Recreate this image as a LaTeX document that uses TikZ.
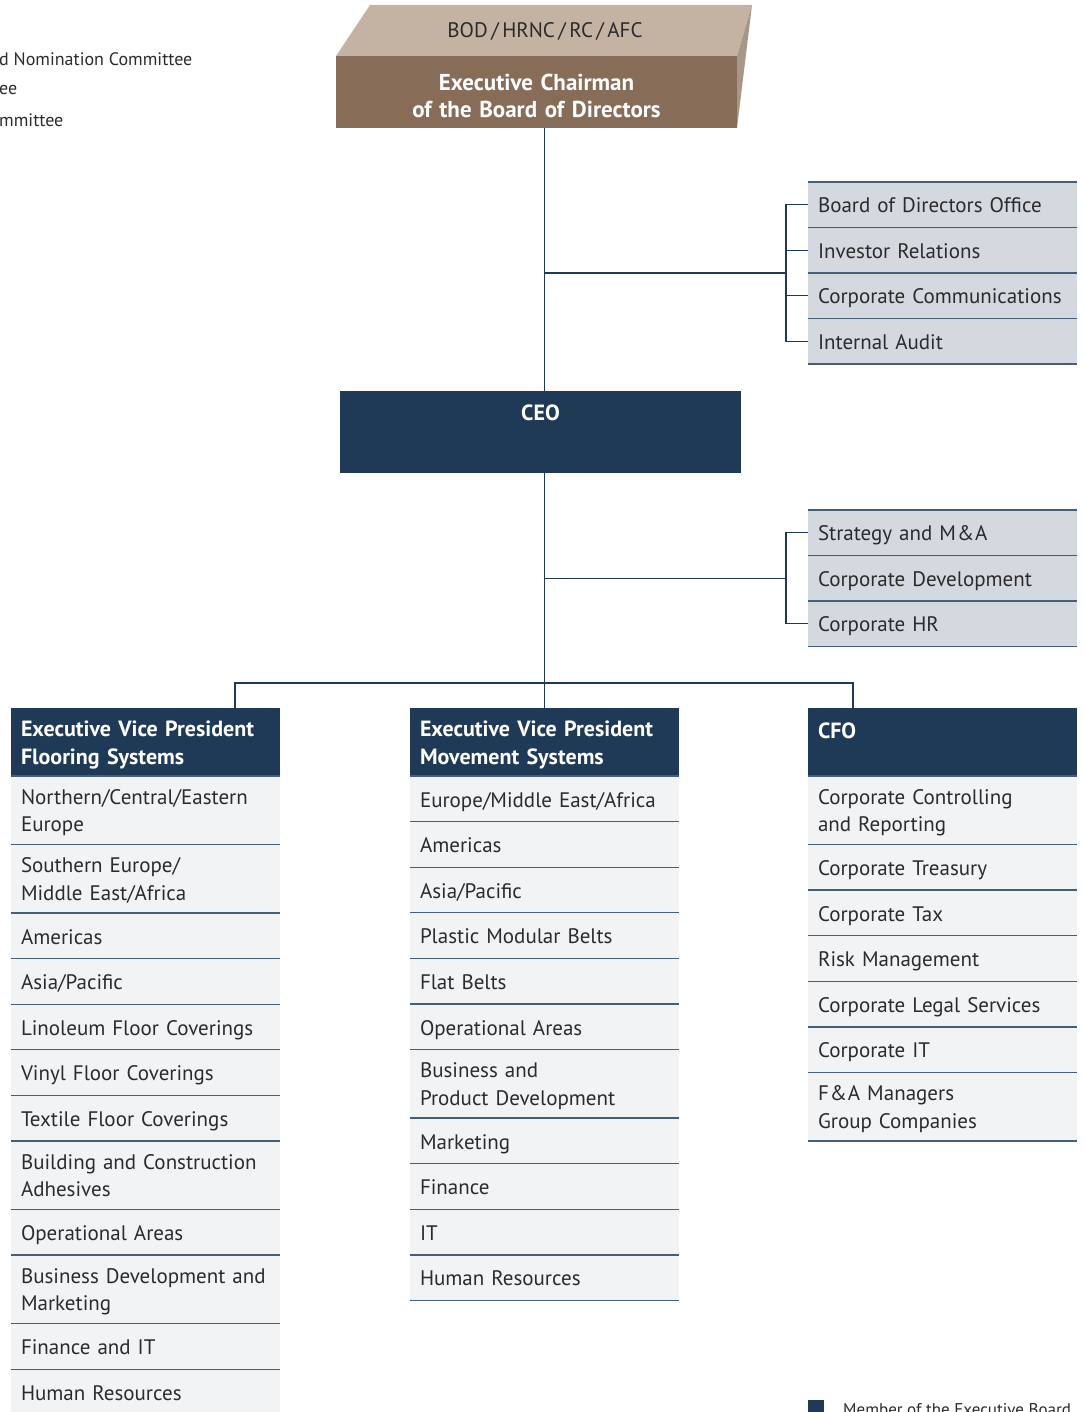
\documentclass[tikz,border=0pt]{standalone}
\usepackage{fontspec}
\setmainfont{PT Sans}
\usetikzlibrary{positioning}

\definecolor{navy}{RGB}{30,58,86}
\definecolor{sepblue}{RGB}{70,94,120}
\definecolor{rowgray}{RGB}{242,243,245}
\definecolor{staffgray}{RGB}{212,216,223}
\definecolor{txtdark}{RGB}{43,43,43}
\definecolor{brownfront}{RGB}{135,108,88}
\definecolor{browntop}{RGB}{196,179,163}
\definecolor{brownside}{RGB}{168,150,134}

\newcommand\orgfont{\fontsize{21}{27.5}\selectfont}
\newcommand\headfont{\fontsize{22}{28}\selectfont\bfseries}
\newcommand\notefont{\fontsize{18}{21}\selectfont}

\tikzset{
  conn/.style={draw=navy, line width=1.2pt},
  sepline/.style={draw=sepblue, line width=1.3pt},
  rowbase/.style={fill=rowgray, anchor=north west, text width=249pt, inner xsep=10pt, inner ysep=0pt,
    outer sep=0pt, align=left, text=txtdark, font=\orgfont},
  unitrow/.style={rowbase, minimum height=45.6pt, execute at begin node={\rule[-5.6pt]{0pt}{27.6pt}}},
  tallrow/.style={rowbase, minimum height=68.5pt, execute at begin node={\rule{0pt}{21pt}},
    execute at end node={\rule[-6pt]{0pt}{6pt}}},
  staffrow/.style={unitrow, fill=staffgray, minimum height=45.5pt},
  headbox/.style={fill=navy, anchor=north west, text width=249pt, inner xsep=10pt, inner ysep=0pt,
    outer sep=0pt, minimum height=68pt, align=left, text=white, font=\headfont,
    execute at begin node={\rule{0pt}{21pt}}},
  pin/.style={inner sep=0pt, outer sep=0pt, minimum size=0pt},
  note/.style={anchor=west, text=txtdark, font=\notefont, inner sep=0pt},
}

\begin{document}
\begin{tikzpicture}[x=1pt,y=-1pt]
\useasboundingbox (0,0) rectangle (1084,1412);
\clip (0,0) rectangle (1084,1412);

\node[note] (hrnc) at (-1,59) {d Nomination Committee};
\node[note] (rc) at (-1,90) {ee};
\node[note] (afc) at (-1,120) {mmittee};

\fill[browntop] (336,56) -- (370,5) -- (752,5) -- (737,56) -- cycle;
\fill[brownside] (737,56) -- (752,5) -- (737,128) -- cycle;
\node[text=txtdark, font=\orgfont] (bod) at (545,31) {BOD\,/\,HRNC\,/\,RC\,/\,AFC};
\node[fill=brownfront, anchor=north west, text width=401pt, minimum height=72pt, inner sep=0pt, outer sep=0pt,
  align=center, text=white, font=\fontsize{23}{26.5}\selectfont\bfseries,
  execute at begin node={\rule{0pt}{30pt}}, execute at end node={\rule[-6pt]{0pt}{6pt}}] (chair) at (336,56)
  {Executive Chairman\\of the Board of Directors};

\node[fill=navy, anchor=north west, minimum width=401pt, minimum height=82pt, inner sep=0pt, outer sep=0pt] (ceo) at (340,391) {};
\node[below=14pt of ceo.north, inner sep=0pt, text=white, font=\headfont] (ceolbl) {CEO};

\node[pin] (bo0) at (808,182) {};
\foreach \t [count=\k, remember=\k as \p (initially 0)] in {Board of Directors Office, Investor Relations,
  Corporate Communications, Internal Audit}{
  \node[staffrow] (bo\k) at (bo\p.south west) {\t};
  \draw[sepline] (bo\k.north west) -- (bo\k.north east);
}
\draw[sepline] (bo4.south west) -- (bo4.south east);

\node[pin] (st0) at (808,510) {};
\foreach \t [count=\k, remember=\k as \p (initially 0)] in {Strategy and M\kern1pt\&\kern1pt A, Corporate Development,
  Corporate HR}{
  \node[staffrow] (st\k) at (st\p.south west) {\t};
  \draw[sepline] (st\k.north west) -- (st\k.north east);
}
\draw[sepline] (st3.south west) -- (st3.south east);

\node[headbox] (fs0) at (11,708) {Executive Vice President\\Flooring Systems};
\foreach \s/\t [count=\k, remember=\k as \p (initially 0)] in {
  tallrow/{Northern/Central/Eastern\\Europe},
  tallrow/{Southern Europe/\\Middle East/Africa},
  unitrow/{Americas},
  unitrow/{Asia/Pacific},
  unitrow/{Linoleum Floor Coverings},
  unitrow/{Vinyl Floor Coverings},
  unitrow/{Textile Floor Coverings},
  tallrow/{Building and Construction\\Adhesives},
  unitrow/{Operational Areas},
  tallrow/{Business Development and\\Marketing},
  unitrow/{Finance and IT},
  unitrow/{Human Resources}}{
  \node[\s] (fs\k) at (fs\p.south west) {\t};
  \draw[sepline] (fs\k.north west) -- (fs\k.north east);
}
\draw[sepline] (fs12.south west) -- (fs12.south east);

\node[headbox] (ms0) at (410,708) {Executive Vice President\\Movement Systems};
\foreach \s/\t [count=\k, remember=\k as \p (initially 0)] in {
  unitrow/{Europe/Middle East/Africa},
  unitrow/{Americas},
  unitrow/{Asia/Pacific},
  unitrow/{Plastic Modular Belts},
  unitrow/{Flat Belts},
  unitrow/{Operational Areas},
  tallrow/{Business and\\Product Development},
  unitrow/{Marketing},
  unitrow/{Finance},
  unitrow/{IT},
  unitrow/{Human Resources}}{
  \node[\s] (ms\k) at (ms\p.south west) {\t};
  \draw[sepline] (ms\k.north west) -- (ms\k.north east);
}
\draw[sepline] (ms11.south west) -- (ms11.south east);

\node[headbox] (cf0) at (808,708) {CFO\\\mbox{}};
\foreach \s/\t [count=\k, remember=\k as \p (initially 0)] in {
  tallrow/{Corporate Controlling\\and Reporting},
  unitrow/{Corporate Treasury},
  unitrow/{Corporate Tax},
  unitrow/{Risk Management},
  unitrow/{Corporate Legal Services},
  unitrow/{Corporate IT},
  tallrow/{F\kern1pt\&\kern1pt A Managers\\Group Companies}}{
  \node[\s] (cf\k) at (cf\p.south west) {\t};
  \draw[sepline] (cf\k.north west) -- (cf\k.north east);
}
\draw[sepline] (cf7.south west) -- (cf7.south east);

\node[fill=navy, anchor=north west, minimum width=16pt, minimum height=14pt, inner sep=0pt] (leg) at (808,1400) {};
\node[anchor=base west, inner sep=0pt, text=txtdark, font=\fontsize{17}{20}\selectfont] (legtxt) at (843,1415) {Member of the Executive Board};

\draw[conn] (chair.south -| ms0.north) -- (ceo.north -| ms0.north);
\draw[conn] (ceo.south -| ms0.north) -- (ms0.north);

\coordinate (bk1) at ([xshift=-22pt]bo2.south west);
\draw[conn] (ms0.north |- bk1) -- (bk1);
\draw[conn] (bo1.west) -- ++(-22,0) |- (bo4.west);
\foreach \k in {2,3} \draw[conn] (bo\k.west) -- ++(-22,0);

\coordinate (bk2) at ([xshift=-22pt]st2.west);
\draw[conn] (ms0.north |- bk2) -- (bk2);
\draw[conn] (st1.west) -- ++(-22,0) |- (st3.west);

\draw[conn] ([xshift=-45pt]fs0.north east) -- ++(0,-25) -| ([xshift=45pt]cf0.north west);
\end{tikzpicture}
\end{document}
